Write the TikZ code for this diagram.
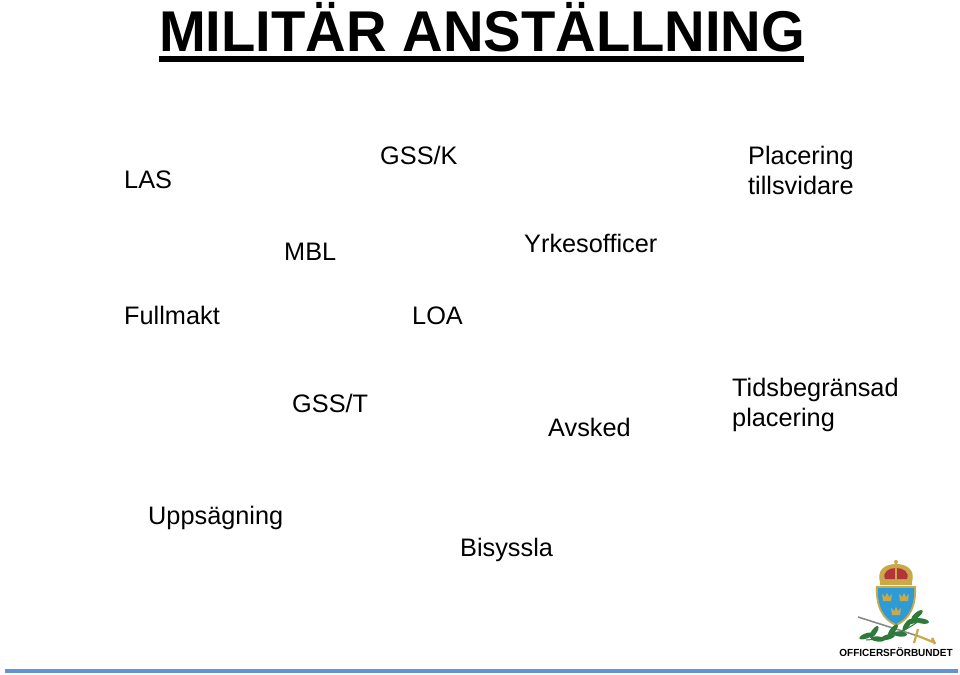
\documentclass[tikz,border=0pt]{standalone}
\usepackage{fontspec}
\setmainfont{Liberation Sans}
\usepackage{tikz}
\definecolor{rulebar}{HTML}{5F93D3}
\definecolor{shieldblue}{HTML}{2E9BD6}
\definecolor{crowngold}{HTML}{C9A94A}
\definecolor{crownred}{HTML}{B5343A}
\definecolor{leafgreen}{HTML}{2F7A3A}
\definecolor{bladegrey}{HTML}{8A8A8A}
\tikzset{
  word/.style={anchor=base west,inner sep=0pt,font=\fontsize{25.3bp}{30bp}\selectfont},
  leaf/.style={fill=leafgreen,draw=none},
  minicrown/.style={fill=crowngold,draw=none}
}
\begin{document}
\begin{tikzpicture}
\useasboundingbox (0bp,0bp) rectangle (960bp,-675bp);

\node (title) at (159bp,-51bp)[anchor=base west,inner sep=0pt,xscale=0.977,font=\fontsize{57.5bp}{60bp}\selectfont\bfseries] {MILITÄR ANSTÄLLNING};
\fill (159bp,-56bp) rectangle (804bp,-62bp);

\node (las) at (124bp,-188bp)[word] {LAS};
\node (gssk) at (380bp,-164bp)[word] {GSS/K};
\node (plac) at (748bp,-164bp)[word] {Placering};
\node (tills) at (748bp,-194bp)[word] {tillsvidare};
\node (mbl) at (284bp,-260bp)[word] {MBL};
\node (yrke) at (524bp,-252bp)[word] {Yrkesofficer};
\node (full) at (124bp,-324bp)[word] {Fullmakt};
\node (loa) at (412bp,-324bp)[word] {LOA};
\node (gsst) at (292bp,-412bp)[word] {GSS/T};
\node (avsk) at (548bp,-436bp)[word] {Avsked};
\node (tids) at (732bp,-396bp)[word] {Tidsbegränsad};
\node (plac2) at (732bp,-426bp)[word] {placering};
\node (upps) at (148bp,-524bp)[word] {Uppsägning};
\node (bisy) at (460bp,-556bp)[word] {Bisyssla};

% crown
\fill[crowngold] (881bp,-585bp) .. controls (875bp,-570bp) and (885bp,-564bp) .. (896bp,-564bp) .. controls (907bp,-564bp) and (917bp,-570bp) .. (911bp,-585bp) -- cycle;
\fill[crownred] (885bp,-579bp) .. controls (882bp,-572bp) and (889bp,-568bp) .. (896bp,-568bp) .. controls (903bp,-568bp) and (910bp,-572bp) .. (907bp,-579bp) -- cycle;
\fill[crowngold] (895bp,-581bp) rectangle (897bp,-564bp);
\fill[crowngold] (896bp,-562bp) circle (2bp);
\fill[crowngold] (880bp,-581bp) rectangle (912bp,-585bp);
% shield
\fill[crowngold] (876bp,-586bp) -- (916bp,-586bp) .. controls (917bp,-605bp) and (911bp,-620bp) .. (896bp,-626bp) .. controls (881bp,-620bp) and (875bp,-605bp) .. (876bp,-586bp) -- cycle;
\fill[shieldblue] (878bp,-588bp) -- (914bp,-588bp) .. controls (915bp,-605bp) and (909bp,-618bp) .. (896bp,-624bp) .. controls (883bp,-618bp) and (877bp,-605bp) .. (878bp,-588bp) -- cycle;
\foreach \cx/\cy in {887/-598,904/-598,896/-612}{
  \fill[minicrown] (\cx bp-5bp,\cy bp+4bp) -- (\cx bp-2bp,\cy bp+1bp) -- (\cx bp,\cy bp+5bp) -- (\cx bp+2bp,\cy bp+1bp) -- (\cx bp+5bp,\cy bp+4bp) -- (\cx bp+4bp,\cy bp-3bp) -- (\cx bp-4bp,\cy bp-3bp) -- cycle;
}
% sword
\draw[bladegrey,line width=1.6bp] (858bp,-617bp) -- (918bp,-636bp);
\draw[crowngold,line width=2.2bp] (918bp,-636bp) -- (933bp,-642bp);
\draw[crowngold,line width=2.2bp] (918bp,-629bp) -- (914bp,-643bp);
\draw[crowngold,line width=2.6bp] (932bp,-638bp) -- (935bp,-644bp);
% branches
\draw[leafgreen,line width=1bp] (866bp,-640bp) .. controls (885bp,-639bp) and (905bp,-632bp) .. (920bp,-620bp);
\foreach \lx/\ly/\lr in {866/-636/20,874/-632/55,878/-639/-5,888/-637/15,893/-630/50,900/-634/-5,907/-625/55,913/-621/15,917/-615/40,922/-621/-10}{
  \fill[leaf,rotate around={\lr:(\lx bp,\ly bp)}] (\lx bp,\ly bp) ellipse (7bp and 2.6bp);
}
\node (logotext) at (896bp,-652bp)[inner sep=0pt,xscale=0.97,font=\fontsize{10.3bp}{12bp}\selectfont\bfseries] {OFFICERSFÖRBUNDET};

\fill[rulebar] (5bp,-669bp) rectangle (958bp,-672.5bp);
\end{tikzpicture}
\end{document}
